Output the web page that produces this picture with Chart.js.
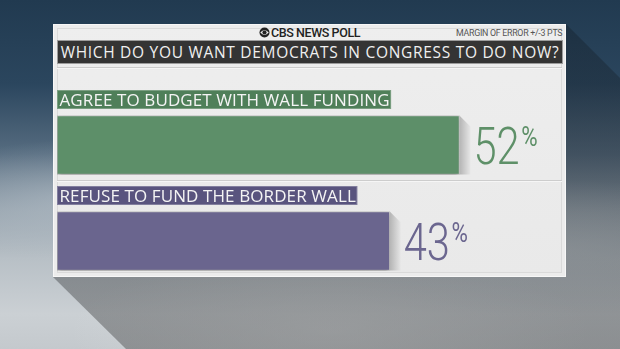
<!DOCTYPE html>
<html>
<head>
<meta charset="utf-8">
<script src="https://cdn.jsdelivr.net/npm/chart.js@4"></script>
<style>
  html, body { margin:0; padding:0; }
  body {
    width:620px; height:349px; overflow:hidden; position:relative;
    background:
      radial-gradient(ellipse 180px 60px at 80px 200px, rgba(190,200,208,0.5), rgba(190,200,208,0) 100%),
      radial-gradient(ellipse 220px 70px at 560px 250px, rgba(200,208,214,0.6), rgba(200,208,214,0) 100%),
      radial-gradient(ellipse 260px 80px at 330px 330px, rgba(225,228,230,0.6), rgba(225,228,230,0) 100%),
      linear-gradient(180deg, #213a50 0%, #2b465e 24%, #566c80 44%, #93a0ab 60%, #b8c0c6 74%, #cbd0d4 90%, #c4c9cd 100%);
    font-family:"Open Sans", sans-serif;
  }
  #shadow {
    position:absolute; left:0; top:0; width:620px; height:349px;
    background:linear-gradient(180deg, rgba(15,25,35,0.35), rgba(40,40,40,0.36));
    clip-path:polygon(566px 24px, 620px 78px, 620px 349px, 126px 349px, 53px 277px);
  }
  #panel {
    position:absolute; left:53px; top:24px; width:511px; height:251px;
    background:linear-gradient(180deg, #eeeeee, #e9e9e9);
    border:1px solid #f7f7f7;
    box-shadow:inset 0 0 0 3px #ececec, inset 0 0 0 4px #dadada;
  }
  #brand {
    position:absolute; left:0; right:0; top:1px; text-align:center;
    font-family:Roboto, sans-serif; font-weight:500; font-size:12.5px;
    color:#222; letter-spacing:-0.4px; line-height:14px;
  }
  #brand svg { vertical-align:-1px; margin-right:1px; }
  #moe {
    position:absolute; right:3px; top:1px; font-family:Roboto, sans-serif;
    font-size:9.5px; color:#555; line-height:13px; letter-spacing:-0.3px;
    transform:scaleX(0.93); transform-origin:right center;
  }
  #title {
    position:absolute; left:3px; top:15px; width:504px; height:22px;
    background:#343434; border:1px solid #9c9c9c;
    color:#f0f0f0; font-size:15.5px; line-height:22px; text-align:center;
    letter-spacing:0.7px; white-space:nowrap;
  }
  .rule { position:absolute; left:3px; right:3px; height:1px; background:#cdcdcd; border-bottom:1px solid #f6f6f6; }
  #chart { position:absolute; left:0; top:0; }
</style>
</head>
<body>
<div id="shadow"></div>
<div id="panel">
  <div id="brand"><svg width="11" height="11" viewBox="0 0 22 22"><circle cx="11" cy="11" r="10" fill="#222"/><path d="M2.5 11 Q11 1.5 19.5 11 Q11 20.5 2.5 11Z" fill="#eee"/><circle cx="11" cy="11" r="4.2" fill="#222"/></svg>CBS NEWS POLL</div>
  <div id="moe">MARGIN OF ERROR +/-3 PTS</div>
  <div id="title">WHICH DO YOU WANT DEMOCRATS IN CONGRESS TO DO NOW?</div>
  <div class="rule" style="top:42px"></div>
  <div class="rule" style="top:155px"></div>
</div>
<canvas id="chart" width="620" height="349"></canvas>
<script>
const answers = ["AGREE TO BUDGET WITH WALL FUNDING", "REFUSE TO FUND THE BORDER WALL"];
const shares = [52, 43];
const barColors = ["#5d8f69", "#6a658e"];
const tagColors = ["#4f7f59", "#59547e"];
const textColors = ["#5e9068", "#6b668f"];

// labels above bars, bevel at bar end and the big percentage
const decorations = {
  id: "decorations",
  beforeDatasetDraw(chart){
    const ctx = chart.ctx;
    ctx.save();
    ctx.shadowColor = "rgba(0,0,0,0.35)";
    ctx.shadowBlur = 5;
    ctx.shadowOffsetY = 2;
  },
  afterDatasetDraw(chart){
    chart.ctx.restore();
  },
  afterDatasetsDraw(chart){
    const ctx = chart.ctx;
    const bars = chart.getDatasetMeta(0).data;
    bars.forEach((bar, i) => {
      const top = bar.y - bar.height / 2;
      const bottom = bar.y + bar.height / 2;
      const left = bar.base;
      const right = bar.x;

      // side bevel
      const g = ctx.createLinearGradient(right, 0, right + 11, 0);
      g.addColorStop(0, "#b4b4b4");
      g.addColorStop(1, "#e6e6e6");
      ctx.fillStyle = g;
      ctx.beginPath();
      ctx.moveTo(right, top);
      ctx.lineTo(right + 11, top + 11);
      ctx.lineTo(right + 11, bottom);
      ctx.lineTo(right, bottom);
      ctx.closePath();
      ctx.fill();

      // answer tag
      ctx.save();
      ctx.font = "17px 'Open Sans'";
      ctx.letterSpacing = "0.1px";
      const w = ctx.measureText(answers[i]).width;
      const tagTop = top - 25.5;
      ctx.fillStyle = tagColors[i];
      ctx.fillRect(left, tagTop, w + 4, 19);
      ctx.strokeStyle = "rgba(255,255,255,0.25)";
      ctx.lineWidth = 1;
      ctx.strokeRect(left + 0.5, tagTop + 0.5, w + 3, 18);
      ctx.fillStyle = "#f4f4f4";
      ctx.textBaseline = "alphabetic";
      ctx.fillText(answers[i], left + 2.5, tagTop + 15.5);
      ctx.restore();

      // percentage
      ctx.save();
      ctx.fillStyle = textColors[i];
      ctx.translate(right + 14, bar.y + 19);
      ctx.scale(0.8, 1);
      ctx.font = "300 52px Roboto";
      const num = String(shares[i]);
      ctx.fillText(num, 0, 0);
      const nw = ctx.measureText(num).width;
      ctx.font = "400 28px Roboto";
      ctx.fillText("%", nw + 2, -18);
      ctx.restore();
    });
  }
};

new Chart(document.getElementById("chart"), {
  type: "bar",
  data: {
    labels: answers,
    datasets: [{
      data: shares,
      backgroundColor: barColors,
      borderColor: "rgba(0,0,0,0.12)",
      borderWidth: 1,
      barThickness: 59,
      borderSkipped: false
    }]
  },
  options: {
    indexAxis: "y",
    responsive: false,
    animation: false,
    layout: { padding: { left: 57, right: 60, top: 97, bottom: 60 } },
    scales: {
      x: { display: false, min: 0, max: 65 },
      y: { display: false }
    },
    plugins: { legend: { display: false }, tooltip: { enabled: false } }
  },
  plugins: [decorations]
});
</script>
</body>
</html>
